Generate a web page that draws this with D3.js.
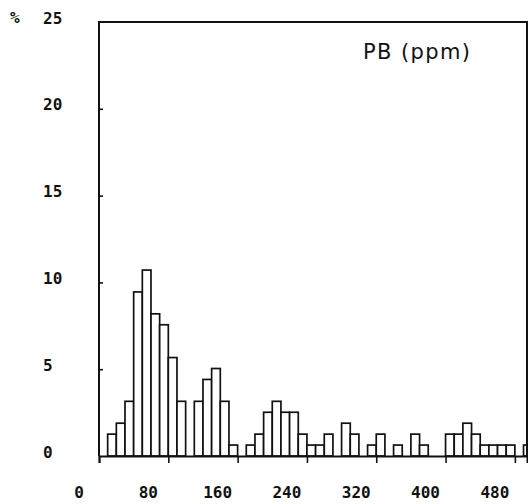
<!DOCTYPE html>
<html><head><meta charset="utf-8">
<script src="https://cdn.jsdelivr.net/npm/d3@7"></script>
<style>body{margin:0;background:#fff}</style>
</head><body>
<svg id="c" width="528" height="504"></svg>
<script>
// ---- data ----
const binStarts = [0,10,20,30,40,50,60,70,80,90,100,110,120,130,140,150,160,170,180,190,
  200,210,220,230,240,250,260,270,280,290,300,310,320,330,340,350,360,370,380,390,
  400,410,420,430,440,450,460,470,480,490];
const percent = [0,1.26,1.89,3.15,9.45,10.71,8.19,7.56,5.67,3.15,
  0,3.15,4.41,5.04,3.15,0.63,0,0.63,1.26,2.52,
  3.15,2.52,2.52,1.26,0.63,0.63,1.26,0,1.89,1.26,
  0,0.63,1.26,0,0.63,0,1.26,0.63,0,0,
  1.26,1.26,1.89,1.26,0.63,0.63,0.63,0.63,0,0.63];
const binWidth = 10;
const xTickValues = [0,80,160,240,320,400,480];
const yTickValues = [0,5,10,15,20,25];
const title = "PB (ppm)";
const yUnit = "%";
const xMax = 494, yMax = 25;

// ---- layout ----
const svg = d3.select("#c");
const mLeft = 99, mRight = 527, mTop = 22, mBottom = 456;
const x = d3.scaleLinear().domain([0, xMax]).range([mLeft, mRight]);
const y = d3.scaleLinear().domain([0, yMax]).range([mBottom, mTop]);
const ink = "#111";
const monoFont = "'DejaVu Sans Mono', 'Liberation Mono', monospace";

svg.append("defs").append("clipPath").attr("id","clip")
  .append("rect").attr("x", mLeft).attr("y", mTop - 2).attr("width", mRight - mLeft).attr("height", mBottom - mTop + 4);

// bars
const data = binStarts.map((s, i) => ({s, v: percent[i]})).filter(d => d.v > 0);
svg.append("g").attr("clip-path","url(#clip)")
  .selectAll("rect").data(data).join("rect")
  .attr("x", d => x(d.s))
  .attr("y", d => y(d.v))
  .attr("width", d => x(d.s + binWidth) - x(d.s))
  .attr("height", d => y(0) - y(d.v))
  .attr("fill", "#fff").attr("stroke", ink).attr("stroke-width", 1.7);

// frame: left, top, right
svg.append("path")
  .attr("d", `M${mLeft},${mBottom}V${mTop}H${mRight}V${mBottom}`)
  .attr("fill","none").attr("stroke", ink).attr("stroke-width", 2);

// x axis (ticks downward, labels drawn separately)
const xAxis = d3.axisBottom(x).tickValues(xTickValues).tickSize(7).tickFormat("");
const gx = svg.append("g").attr("transform", `translate(0,${mBottom})`).call(xAxis);
gx.select(".domain").attr("stroke", ink).attr("stroke-width", 2);
gx.selectAll(".tick line").attr("stroke", ink).attr("stroke-width", 1.6);

svg.append("g").selectAll("text").data(xTickValues).join("text")
  .attr("x", d => x(d) - 20).attr("y", 498)
  .attr("text-anchor","middle")
  .attr("font-family", monoFont).attr("font-size", 16).attr("font-weight", "bold").attr("fill", ink)
  .text(d => d);

// y axis ticks (inward)
const yAxis = d3.axisRight(y).tickValues(yTickValues.filter(v => v > 0 && v < yMax)).tickSize(4).tickFormat("");
const gy = svg.append("g").attr("transform", `translate(${mLeft},0)`).call(yAxis);
gy.select(".domain").remove();
gy.selectAll(".tick line").attr("stroke", ink).attr("stroke-width", 1.6);

svg.append("g").selectAll("text").data(yTickValues).join("text")
  .attr("x", 43).attr("y", d => y(d) + 1.5)
  .attr("text-anchor","start")
  .attr("font-family", monoFont).attr("font-size", 16).attr("font-weight", "bold").attr("fill", ink)
  .text(d => d);

svg.append("text").attr("x", 10).attr("y", y(yMax) + 1)
  .attr("font-family", monoFont).attr("font-size", 16).attr("font-weight", "bold").attr("fill", ink)
  .text(yUnit);

// title
svg.append("text").attr("x", 363).attr("y", 59)
  .attr("font-family", "'DejaVu Sans', sans-serif").attr("font-size", 21)
  .attr("letter-spacing", 1.4).attr("fill", ink)
  .text(title);
</script>
</body></html>
